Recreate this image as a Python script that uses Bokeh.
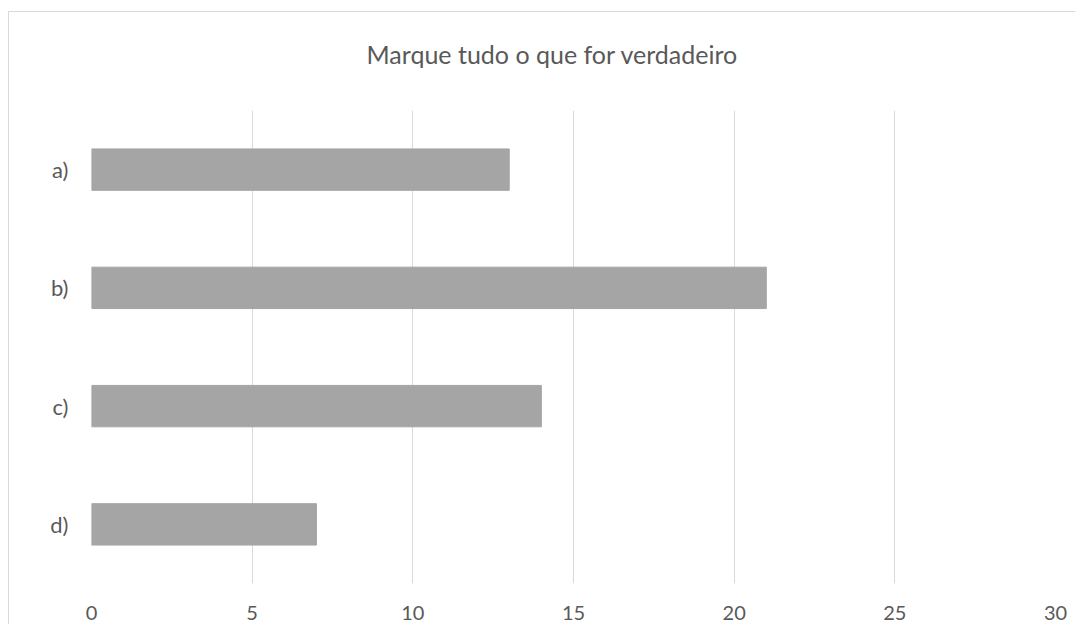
from bokeh.plotting import figure
from bokeh.models import FactorRange, Range1d, FixedTicker
from bokeh.embed import file_html
from bokeh.resources import INLINE

categories = ["a)", "b)", "c)", "d)"]
values = [13, 21, 14, 7]
x_ticks = [0, 5, 10, 15, 20, 25, 30]
title_text = "Marque tudo o que for verdadeiro"

FONT = "Lato"
TXT = "#595959"
GRID = "#D9D9D9"

p = figure(
    width=1067, height=613,
    y_range=FactorRange(*list(reversed(categories)), range_padding=0),
    x_range=Range1d(0, 30),
    output_backend="svg", toolbar_location=None,
    min_border_left=82, min_border_right=21, min_border_top=98, min_border_bottom=42,
    title=title_text + "\n\u00a0",
)
p.hbar(y=categories, right=values, left=0, height=0.35, color="#A5A5A5")

p.title.text_font = FONT
p.title.text_font_size = "25px"
p.title.text_font_style = "normal"
p.title.text_color = TXT
p.title.align = "left"
p.title.offset = 275
p.title.standoff = 24

p.outline_line_color = None
p.ygrid.grid_line_color = None
p.xgrid.grid_line_color = GRID
p.xgrid.grid_line_width = 1
p.xaxis.ticker = FixedTicker(ticks=x_ticks)

for ax in (p.xaxis, p.yaxis):
    ax.axis_line_color = None
    ax.major_tick_line_color = None
    ax.minor_tick_line_color = None
    ax.major_label_text_font = FONT
    ax.major_label_text_color = TXT
p.xaxis.major_label_text_font_size = "20px"
p.yaxis.major_label_text_font_size = "22px"
p.xaxis.major_label_standoff = 16
p.yaxis.major_label_standoff = 17

p.styles = {"border-top": "1px solid #D9D9D9", "border-left": "1px solid #D9D9D9",
            "margin-top": "11px", "margin-left": "8px"}

open("out.html", "w").write(file_html(p, INLINE))
